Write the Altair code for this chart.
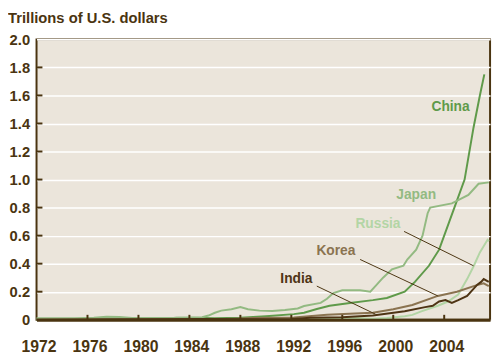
import altair as alt
import pandas as pd

# ---- data (year, trillions of US$) ----
china_years = [1972, 1978, 1980, 1982, 1983, 1985, 1986, 1988, 1990, 1992.2, 1993, 1994, 1995, 1996.6,
               1998.4, 1999.5, 2000.9, 2001.7, 2002.8, 2003.6, 2004.4, 2004.8, 2005.6, 2006.3, 2006.8, 2007.15]
china_vals = [0.0005, 0.002, 0.003, 0.008, 0.014, 0.012, 0.01, 0.015, 0.025, 0.04, 0.05, 0.077, 0.1, 0.12,
              0.14, 0.155, 0.2, 0.27, 0.385, 0.5, 0.7, 0.8, 1.0, 1.37, 1.6, 1.75]

japan_years = [1972, 1975, 1976.5, 1977.5, 1978.5, 1979.5, 1983, 1985, 1985.5, 1986, 1986.5, 1987.3, 1988,
               1988.6, 1989.5, 1990.5, 1991.5, 1992.5, 1993, 1994.3, 1994.8, 1995.3, 1996, 1997.4, 1998.2,
               1998.6, 1999.2, 1999.9, 2000.8, 2001.1, 2001.8, 2002.3, 2002.7, 2002.9, 2004.6, 2005.9,
               2006.7, 2007.5]
japan_vals = [0.01, 0.01, 0.015, 0.022, 0.02, 0.012, 0.013, 0.018, 0.03, 0.05, 0.065, 0.075, 0.09,
              0.075, 0.065, 0.063, 0.07, 0.08, 0.098, 0.12, 0.15, 0.19, 0.21, 0.21, 0.2,
              0.24, 0.3, 0.36, 0.385, 0.43, 0.5, 0.6, 0.76, 0.8, 0.83, 0.89,
              0.97, 0.98]

russia_years = [1992.8, 1995, 1997, 1998.4, 1999.5, 2000.9, 2001.5, 2002.2, 2003.5, 2004.3, 2005.1,
                2005.8, 2006.3, 2006.8, 2007.4, 2007.5]
russia_vals = [0.002, 0.008, 0.012, 0.008, 0.012, 0.025, 0.035, 0.06, 0.1, 0.13, 0.18,
               0.29, 0.38, 0.48, 0.57, 0.56]

korea_years = [1972, 1980, 1986, 1987.5, 1989, 1992.2, 1994.8, 1997, 1998.4, 2000, 2001.5, 2003.5,
               2005, 2006.5, 2007.1, 2007.5]
korea_vals = [0.001, 0.003, 0.003, 0.008, 0.013, 0.017, 0.035, 0.045, 0.05, 0.075, 0.105, 0.17,
              0.2, 0.245, 0.26, 0.24]

india_years = [1972, 1985, 1990, 1992, 1993.5, 1996, 1998.4, 2000.9, 2002.5, 2003.1, 2003.6, 2004.1,
               2004.6, 2005.1, 2005.8, 2006.6, 2006.9, 2007.1, 2007.5]
india_vals = [0.001, 0.005, 0.003, 0.005, 0.015, 0.018, 0.03, 0.06, 0.09, 0.1, 0.13, 0.14,
              0.12, 0.14, 0.17, 0.25, 0.27, 0.29, 0.27]

series_names = ["China", "Japan", "Russia", "Korea", "India"]
series_colors = ["#5f9a4a", "#93ba82", "#b3d5a5", "#8a7350", "#4e3414"]

x_tick_years = [1972, 1976, 1980, 1984, 1988, 1992, 1996, 2000, 2004]
y_tick_vals = [0, 0.2, 0.4, 0.6, 0.8, 1.0, 1.2, 1.4, 1.6, 1.8, 2.0]

# annotation labels (name, year, value) and leader lines (year1, v1, year2, v2)
label_names = ["China", "Japan", "Russia", "Korea", "India"]
label_years = [2004.5, 2001.8, 1998.8, 1995.5, 1992.4]
label_vals = [1.52, 0.89, 0.685, 0.49, 0.29]
leader_x1 = [2000.85, 1997.4, 1994.0]
leader_y1 = [0.63, 0.43, 0.24]
leader_x2 = [2006.3, 2003.5, 1998.6]
leader_y2 = [0.385, 0.17, 0.04]

# ---- build tables ----
rows = []
for name, ys, vs in [("China", china_years, china_vals), ("Japan", japan_years, japan_vals),
                     ("Russia", russia_years, russia_vals), ("Korea", korea_years, korea_vals),
                     ("India", india_years, india_vals)]:
    for y, v in zip(ys, vs):
        rows.append({"series": name, "year": y, "value": v})
df = pd.DataFrame(rows)
labels_df = pd.DataFrame({"series": label_names, "year": label_years, "value": label_vals})
leaders_df = pd.DataFrame({"x1": leader_x1, "y1": leader_y1, "x2": leader_x2, "y2": leader_y2})
yt_df = pd.DataFrame({"v": [v for v in y_tick_vals if 0 < v < 2]})
xt_df = pd.DataFrame({"yr": [y for y in x_tick_years if y > 1972]})

DARK = "#4a3410"
FONT = "Liberation Sans"
W, H = 461, 285

xscale = alt.Scale(domain=[1972, 2007.6], nice=False)
yscale = alt.Scale(domain=[0, 2], nice=False)
color = alt.Color("series:N", scale=alt.Scale(domain=series_names, range=series_colors), legend=None)


def x_axis():
    return alt.Axis(values=x_tick_years, format="d", ticks=False, grid=False, domain=True,
                    domainColor=DARK, domainWidth=3, labelPadding=19, labelFlush=False,
                    labelOverlap=False, labelOffset=2, labelFontSize=16, labelFont=FONT,
                    labelFontWeight="bold", labelColor=DARK, title=None, zindex=1)


def y_axis():
    return alt.Axis(values=y_tick_vals, ticks=False, domain=False, grid=True, gridColor="white",
                    gridWidth=1.5, labelPadding=7, labelOverlap=False,
                    labelExpr="datum.value == 0 ? '0' : format(datum.value, '.1f')",
                    labelFontSize=15, labelFont=FONT, labelFontWeight="bold", labelColor=DARK,
                    title=None)


lines = alt.Chart(df).mark_line(strokeWidth=2).encode(
    x=alt.X("year:Q", scale=xscale, axis=x_axis()),
    y=alt.Y("value:Q", scale=yscale, axis=y_axis()),
    color=color,
    order="year:Q",
)

ytick_marks = alt.Chart(yt_df).mark_rule(color=DARK, strokeWidth=2).encode(
    y=alt.Y("v:Q", scale=yscale, axis=y_axis()), x=alt.value(0), x2=alt.value(6))
xtick_marks = alt.Chart(xt_df).mark_rule(color=DARK, strokeWidth=2).encode(
    x=alt.X("yr:Q", scale=xscale, axis=x_axis()), y=alt.value(H), y2=alt.value(H - 5))

leaders = alt.Chart(leaders_df).mark_rule(color=DARK, strokeWidth=1).encode(
    x=alt.X("x1:Q", scale=xscale, axis=x_axis()), y=alt.Y("y1:Q", scale=yscale, axis=y_axis()),
    x2="x2:Q", y2="y2:Q")

texts = alt.Chart(labels_df).mark_text(font=FONT, fontSize=14, fontWeight="bold").encode(
    x=alt.X("year:Q", scale=xscale, axis=x_axis()), y=alt.Y("value:Q", scale=yscale, axis=y_axis()),
    text="series:N", color=color)

title = alt.Chart(pd.DataFrame({"t": ["Trillions of U.S. dollars"]})).mark_text(
    font=FONT, fontSize=15, fontWeight="bold", color=DARK, align="left", baseline="alphabetic"
).encode(text="t:N", x=alt.value(-29), y=alt.value(-17))

chart = alt.layer(lines, ytick_marks, xtick_marks, leaders, texts, title).properties(
    width=W, height=H,
    autosize=alt.AutoSizeParams(type="none"),
    padding={"left": 29, "top": 29, "right": 4, "bottom": 36},
    background="white",
).configure_view(fill="#ebe5db", stroke=DARK, strokeWidth=2)

chart.save("out.html", embed_options={"renderer": "svg", "actions": False})
